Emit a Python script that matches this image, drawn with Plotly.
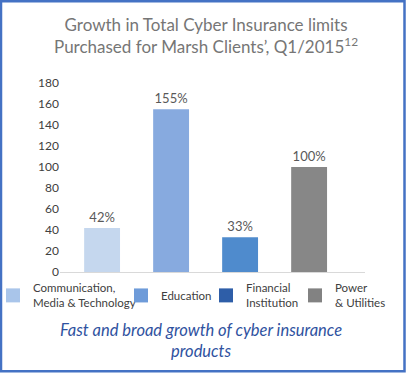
import plotly.graph_objects as go

categories = ["Communication,<br>Media & Technology", "Education", "Financial<br>Institution", "Power<br>& Utilities"]
values = [42, 155, 33, 100]
labels = ["42%", "155%", "33%", "100%"]
bar_colors = ["#c5d7ee", "#87aadf", "#4f8bcd", "#878787"]
legend_colors = ["#a9c5ea", "#6e9bd9", "#2e5ea8", "#828282"]
y_ticks = [0, 20, 40, 60, 80, 100, 120, 140, 160, 180]

W, H = 406, 373
L, R, T, B = 60, 41, 83, 100.5
pw, ph = W - L - R, H - T - B

def px(x):
    return (x - L) / pw

def py(y):
    return (H - B - y) / ph

fig = go.Figure()
fig.add_trace(go.Bar(
    x=list(range(len(values))), y=values, width=0.52,
    marker=dict(color=bar_colors, line=dict(width=0)),
    text=labels, textposition="outside", cliponaxis=False,
    textfont=dict(family="Lato", size=13, color="#595959"),
    showlegend=False, hoverinfo="skip",
))

legend_x = [-7, 121, 206, 295]
for i, (name, col) in enumerate(zip(categories, legend_colors)):
    lg = "legend" if i == 0 else f"legend{i+1}"
    fig.add_trace(go.Scatter(
        x=[None], y=[None], mode="markers", name=name,
        marker=dict(symbol="square", size=14, color=col),
        legend=lg, showlegend=True,
    ))

legend_common = dict(
    orientation="v", xanchor="left", yanchor="middle", y=py(296),
    bgcolor="rgba(0,0,0,0)", borderwidth=0,
    font=dict(family="Lato", size=11.5, color="#404040"),
    itemwidth=30, tracegroupgap=0,
)
layout_legends = {}
for i, lx in enumerate(legend_x):
    key = "legend" if i == 0 else f"legend{i+1}"
    layout_legends[key] = dict(legend_common, x=px(lx))

fig.update_layout(
    width=W, height=H,
    margin=dict(l=L, r=R, t=T, b=B, autoexpand=False),
    paper_bgcolor="white", plot_bgcolor="white",
    font=dict(family="Lato", color="#404040"),
    xaxis=dict(range=[-0.61, 3.81], showticklabels=False, showgrid=False,
               zeroline=False, showline=True, linecolor="#d9d9d9", linewidth=1, ticks=""),
    yaxis=dict(range=[0, 180], tickvals=y_ticks, showgrid=False, zeroline=False,
               showline=False, ticks="", tickfont=dict(family="Lato", size=12, color="#404040")),
    **layout_legends,
)

fig.add_annotation(
    xref="paper", yref="paper", x=px(206), y=py(35.5), xanchor="center", yanchor="middle",
    text="Growth in Total Cyber Insurance limits<br>Purchased for Marsh Clients’, Q1/2015<sup>12</sup>",
    showarrow=False, font=dict(family="Lato", size=17, color="#767676"),
)
fig.add_annotation(
    xref="paper", yref="paper", x=px(201), y=py(341.5), xanchor="center", yanchor="middle",
    text="<i>Fast and broad growth of cyber insurance<br>products</i>",
    showarrow=False, font=dict(family="Lato", size=16.5, color="#2f52a0"),
)
fig.add_shape(type="rect", xref="paper", yref="paper",
              x0=px(1), x1=px(404.5), y0=py(372), y1=py(1),
              line=dict(color="#4472c4", width=2.5), layer="above")

fig.write_html("out.html", config={"displayModeBar": False},
               post_script="document.body.style.margin='0';")
